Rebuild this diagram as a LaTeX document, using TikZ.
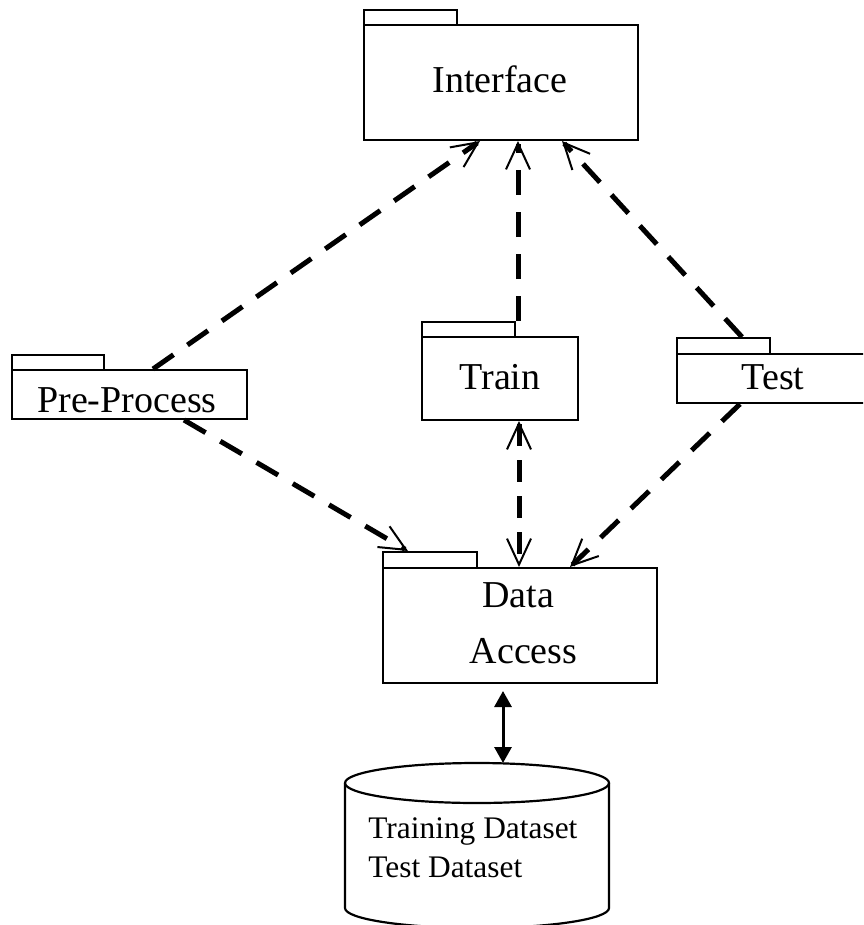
\documentclass[tikz,border=0pt]{standalone}
\usepackage{fontspec}
\setmainfont{Liberation Serif}
\usetikzlibrary{arrows.meta}
\begin{document}
\begin{tikzpicture}[x=0.5pt,y=-0.5pt,
  pkg/.style={draw,line width=1pt,inner sep=0pt,anchor=north west},
  lbl/.style={font=\fontsize{19}{22}\selectfont,anchor=base,inner sep=0pt},
  dblbl/.style={font=\fontsize{15.7}{19}\selectfont,anchor=base west,inner sep=0pt},
  barb/.tip={Straight Barb[length=13pt,width=12pt,line width=1pt]},
  dep/.style={line width=2.5pt,dash pattern=on 12.5pt off 8.5pt,-barb},
  depboth/.style={line width=2.5pt,dash pattern=on 11pt off 7pt,barb-barb},
  solidarr/.style={line width=1.5pt,{Triangle[length=8pt,width=8.5pt]}-{Triangle[length=8pt,width=8.5pt]}}
]
\useasboundingbox (0,0) rectangle (863,925);
\clip (0,0) rectangle (863,925);

% Interface
\node[pkg,minimum width=137pt,minimum height=57.5pt] (iface) at (363,24) {};
\node[pkg,minimum width=46.5pt,minimum height=7.5pt] (ifacetab) at (363,9) {};
\node[lbl] (ifacelbl) at (500,93) {Interface};

% Pre-Process
\node[pkg,minimum width=117.5pt,minimum height=24.5pt] (pre) at (11,369) {};
\node[pkg,minimum width=46pt,minimum height=7.5pt] (pretab) at (11,354) {};
\node[lbl] (prelbl) at (127,412) {Pre-Process};

% Train
\node[pkg,minimum width=78pt,minimum height=41.5pt] (train) at (421,336) {};
\node[pkg,minimum width=46.5pt,minimum height=7.5pt] (traintab) at (421,321) {};
\node[lbl] (trainlbl) at (500,389) {Train};

% Test
\node[pkg,minimum width=120pt,minimum height=24.5pt] (test) at (676,353) {};
\node[pkg,minimum width=46.5pt,minimum height=8pt] (testtab) at (676,337) {};
\node[lbl] (testlbl) at (773,389) {Test};

% Data Access
\node[pkg,minimum width=137pt,minimum height=57.5pt] (da) at (382,567) {};
\node[pkg,minimum width=47pt,minimum height=8pt] (datab) at (382,551) {};
\node[lbl] (dalbl1) at (518,607) {Data};
\node[lbl] (dalbl2) at (523.5,663) {Access};

% Database cylinder
\draw[line width=1.1pt] (345,783) -- (345,908) arc[start angle=180,end angle=360,x radius=66pt,y radius=10pt] -- (609,783);
\draw[line width=1.1pt] (477,783) ellipse [x radius=66pt,y radius=10pt];
\coordinate (dbtop) at (503,763);
\node[dblbl] (db1) at (368,838) {Training Dataset};
\node[dblbl] (db2) at (368,877) {Test Dataset};

% Connectors
\draw[dep] (153,0 |- pre.north) -- (480,0 |- iface.south);
\draw[dep] (518,0 |- traintab.north) -- (518,0 |- iface.south);
\draw[dep] (742,0 |- testtab.north) -- (562,0 |- iface.south);
\draw[dep] (184,0 |- pre.south) -- (408,0 |- datab.north);
\draw[depboth] (519,0 |- train.south) -- (519,0 |- da.north);
\draw[dep] (740,0 |- test.south) -- (570,0 |- da.north);
\draw[solidarr,shorten <=3.5pt] (503,0 |- da.south) -- (dbtop);
\end{tikzpicture}
\end{document}
